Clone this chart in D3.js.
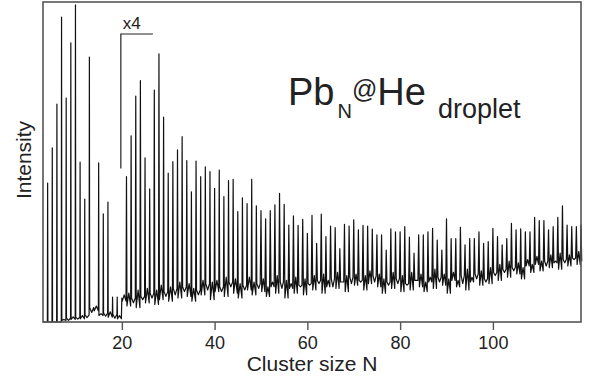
<!DOCTYPE html>
<html>
<head>
<meta charset="utf-8">
<script src="https://cdn.jsdelivr.net/npm/d3@7"></script>
<style>
  body { margin: 0; background: #fff; }
  text { font-family: "Liberation Sans", Arial, sans-serif; fill: #222; }
</style>
</head>
<body>
<svg id="svg" width="592" height="378"></svg>
<script>
// cluster sizes N with a mass peak
const sizes = d3.range(4, 120);

// peak height for each N (arb. units, N >= 20 already multiplied by 4)
const peaks = [
  43.4, 54.4, 68.1, 95.3, 70.0, 87.2, 99.1, 50.0, 38.4, 82.8,   // 4-13
  3.8, 49.7, 33.8, 37.5, 7.8, 7.8,                               // 14-19
  7.5, 45.4, 58.2, 70.6, 75.4, 51.3, 41.6, 72.5, 83.8, 64.0,     // 20-29
  46.5, 50.1, 53.8, 57.9, 50.4, 40.7, 50.3, 45.4, 48.5, 47.0,    // 30-39
  41.8, 47.5, 39.2, 44.2, 44.6, 34.5, 38.8, 37.0, 44.6, 36.3,    // 40-49
  34.8, 32.2, 34.8, 36.6, 40.2, 36.8, 30.3, 33.2, 30.2, 32.1,    // 50-59
  27.7, 33.3, 24.6, 33.7, 26.7, 30.0, 29.5, 22.9, 30.5, 30.0,    // 60-69
  31.9, 28.8, 30.2, 30.0, 29.0, 27.2, 27.2, 22.5, 29.1, 28.2,    // 70-79
  28.2, 29.8, 26.5, 21.5, 27.2, 27.2, 28.2, 29.3, 25.6, 22.5,    // 80-89
  32.2, 26.1, 26.1, 29.6, 24.1, 26.1, 26.1, 28.2, 24.6, 25.1,    // 90-99
  29.3, 26.7, 24.1, 26.1, 30.8, 28.8, 29.1, 28.2, 28.2, 32.7,    // 100-109
  31.7, 31.7, 28.8, 29.8, 32.7, 36.3, 30.3, 29.8, 29.8, 30.3     // 110-119
];

// lowest background level in the gap after each N
const valleys = [
  0, 0, 0, 0.5, 1.2, 0.8, 1.5, 1.0, 2.2, 4.5,                    // 4-13
  3.5, 2.0, 2.8, 1.5, 2.4, 1.0,                                  // 14-19
  6.5, 5.0, 7.5, 4.5, 8.0, 6.0, 9.0, 5.5, 7.0, 9.5,              // 20-29
  6.5, 10.5, 7.5, 11.0, 8.0, 6.5, 10.0, 8.5, 12.0, 7.0,          // 30-39
  9.5, 11.0, 8.0, 12.5, 9.0, 7.5, 11.5, 10.0, 8.5, 12.0,         // 40-49
  9.5, 8.0, 11.0, 9.0, 12.5, 7.5, 10.5, 9.0, 11.5, 8.5,          // 50-59
  12.0, 10.0, 13.0, 9.0, 11.0, 13.5, 10.5, 12.5, 9.5, 14.0,      // 60-69
  11.5, 13.0, 10.0, 12.0, 14.5, 11.0, 9.0, 12.5, 10.5, 13.5,     // 70-79
  9.5, 12.0, 10.0, 13.0, 11.0, 9.5, 12.5, 10.5, 14.0, 11.5,      // 80-89
  9.0, 13.0, 11.0, 14.5, 10.0, 12.5, 15.0, 11.5, 13.5, 12.0,     // 90-99
  15.5, 13.0, 16.5, 14.0, 17.0, 15.0, 13.5, 17.5, 15.5, 18.0,    // 100-109
  16.0, 19.0, 17.0, 18.5, 16.5, 19.5, 17.5, 20.0, 18.0, 19.0     // 110-119
];

// small hump of background half way between two peaks
const humps = [
  0, 0, 0, 0.8, 0.5, 1.6, 0.9, 2.0, 1.4, 3.0,                    // 4-13
  5.0, 2.6, 1.8, 3.2, 1.2, 2.0,                                  // 14-19
  8.5, 9.0, 6.0, 10.0, 7.0, 10.5, 7.5, 10.0, 11.5, 8.0,          // 20-29
  11.0, 8.5, 12.5, 9.5, 12.0, 10.5, 8.5, 13.0, 10.0, 12.5,       // 30-39
  13.0, 9.5, 14.0, 11.0, 13.5, 12.0, 10.0, 14.0, 12.5, 10.5,     // 40-49
  13.5, 11.0, 12.5, 14.5, 10.5, 13.0, 12.0, 14.0, 11.0, 13.5,    // 50-59
  11.5, 14.5, 12.0, 15.0, 13.0, 11.0, 15.5, 12.5, 14.5, 12.0,    // 60-69
  15.0, 12.5, 14.5, 16.0, 12.5, 15.0, 13.5, 11.5, 15.5, 12.0,    // 70-79
  14.5, 11.5, 15.5, 13.0, 15.0, 12.5, 14.0, 16.5, 12.5, 15.0,    // 80-89
  13.5, 15.5, 13.0, 12.0, 16.5, 14.0, 13.5, 16.0, 12.5, 17.0,    // 90-99
  14.5, 18.0, 15.5, 19.0, 16.0, 18.5, 17.0, 19.5, 18.0, 20.5,    // 100-109
  19.0, 17.5, 21.0, 19.0, 21.5, 18.5, 21.0, 19.5, 22.0, 20.0     // 110-119
];

const xTicks = [20, 40, 60, 80, 100];
const gainStart = 20;     // from here on the signal is magnified
const gainLabel = "x4";

let width = 592, height = 378;
let plot = { x1: 43, x2: 581, y1: 2, y2: 322 };

let x = d3.scaleLinear().domain([3, 119]).range([plot.x1, plot.x2]);
let y = d3.scaleLinear().domain([0, 100]).range([plot.y2, plot.y1]);

let svg = d3.select("#svg").attr("width", width).attr("height", height);

// peak half width grows a bit for the larger clusters
function halfWidth(n) {
  if (n < gainStart) return 0.06;
  if (n < 50) return 0.1;
  return 0.16;
}

// build the trace: spike at each N, then dip / hump / dip before the next one
let pts = [[3, 0]];
for (let i = 0; i < sizes.length; ++i) {
  let n = sizes[i];
  let w = halfWidth(n);
  let before = i == 0 ? 0 : valleys[i - 1];
  pts.push([n - w, before]);
  pts.push([n, peaks[i]]);
  pts.push([n + w, valleys[i]]);
  if (n < 119) pts.push([n + 0.5, humps[i]]);
}

let line = d3.line()
  .x(function(d) { return x(d[0]); })
  .y(function(d) { return y(d[1]); });

svg.append("path")
  .attr("d", line(pts))
  .attr("fill", "none")
  .attr("stroke", "#111")
  .attr("stroke-width", 1.2)
  .attr("stroke-linejoin", "round");

// frame
svg.append("rect")
  .attr("x", plot.x1).attr("y", plot.y1)
  .attr("width", plot.x2 - plot.x1).attr("height", plot.y2 - plot.y1)
  .attr("fill", "none")
  .attr("stroke", "#555")
  .attr("stroke-width", 1.6);

// bottom axis, ticks pointing outward
let xAxis = svg.append("g")
  .attr("transform", "translate(0," + plot.y2 + ")")
  .call(d3.axisBottom(x).tickValues(xTicks).tickSize(8).tickPadding(6));
xAxis.select(".domain").remove();
xAxis.selectAll(".tick line").attr("stroke", "#555").attr("stroke-width", 1.4);
xAxis.selectAll(".tick text")
  .style("font-family", "'Liberation Sans', Arial, sans-serif")
  .style("font-size", "18px")
  .attr("fill", "#222");

svg.append("text")
  .attr("x", (plot.x1 + plot.x2) / 2).attr("y", 371)
  .attr("text-anchor", "middle")
  .style("font-size", "21px")
  .text("Cluster size N");

svg.append("text")
  .attr("transform", "translate(31," + 160 + ") rotate(-90)")
  .attr("text-anchor", "middle")
  .style("font-size", "21px")
  .text("Intensity");

// magnification bracket
svg.append("path")
  .attr("d", d3.line()([
    [x(gainStart) - 1, y(48)], [x(gainStart) - 1, y(90)], [x(gainStart + 6.7), y(90)]
  ]))
  .attr("fill", "none")
  .attr("stroke", "#222")
  .attr("stroke-width", 1.2);

svg.append("text")
  .attr("x", x(gainStart) + 1).attr("y", 29)
  .style("font-size", "17px")
  .text(gainLabel);

// title label
let t = svg.append("text").attr("x", 288).attr("y", 105);
t.append("tspan").style("font-size", "38px").text("Pb");
t.append("tspan").style("font-size", "20px").attr("dx", 3).attr("dy", 13).text("N");
t.append("tspan").style("font-size", "25px").attr("dy", -20).text("@");
t.append("tspan").style("font-size", "38px").attr("dy", 7).text("He");
t.append("tspan").style("font-size", "27px").attr("dx", 12).attr("dy", 13).text("droplet");
</script>
</body>
</html>
